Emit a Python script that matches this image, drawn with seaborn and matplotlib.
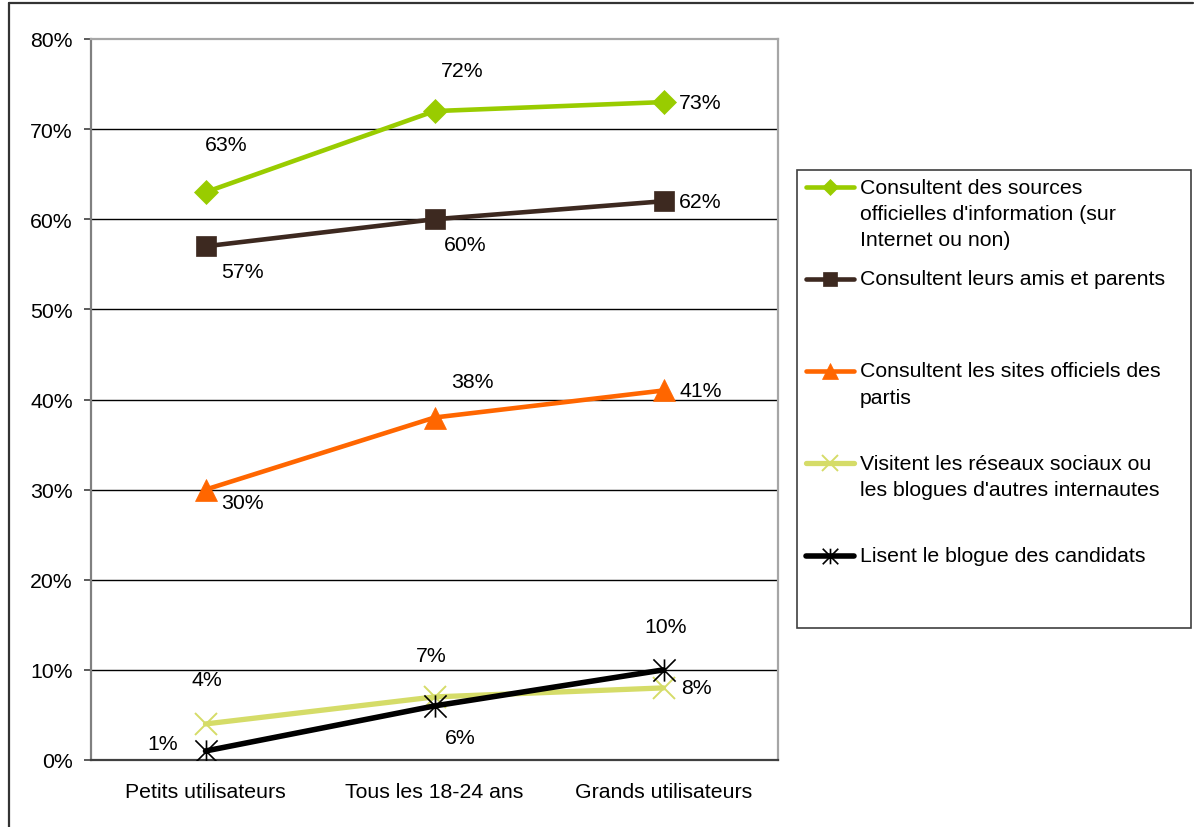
import numpy as np
import pandas as pd
import matplotlib
matplotlib.use("Agg")
import matplotlib.pyplot as plt
from matplotlib.lines import Line2D
from matplotlib.path import Path
from matplotlib.ticker import FixedLocator, FuncFormatter
import seaborn as sns

# ---------------- data ----------------
categories = ["Petits utilisateurs", "Tous les 18-24 ans", "Grands utilisateurs"]
series_names = [
    "Consultent des sources\nofficielles d'information (sur\nInternet ou non)",
    "Consultent leurs amis et parents",
    "Consultent les sites officiels des\npartis",
    "Visitent les réseaux sociaux ou\nles blogues d'autres internautes",
    "Lisent le blogue des candidats",
]
sources_officielles = [63, 72, 73]
amis_parents = [57, 60, 62]
sites_partis = [30, 38, 41]
reseaux_sociaux = [4, 7, 8]
blogue_candidats = [1, 6, 10]
values = [sources_officielles, amis_parents, sites_partis, reseaux_sociaux, blogue_candidats]
y_ticks = [0, 10, 20, 30, 40, 50, 60, 70, 80]

# ---------------- style ----------------
star = Path([(-1, -1), (1, 1), (-1, 1), (1, -1), (0, -1), (0, 1)],
            [Path.MOVETO, Path.LINETO, Path.MOVETO, Path.LINETO, Path.MOVETO, Path.LINETO])
styles = [
    dict(color="#99CC00", marker="D", ms=12, mfc="#99CC00", mec="#99CC00", mew=0.5, lw=3.3),
    dict(color="#3D2920", marker="s", ms=14.5, mfc="#3D2920", mec="#3D2920", mew=0.5, lw=3.3),
    dict(color="#FF6600", marker="^", ms=16, mfc="#FF6600", mec="#FF6600", mew=0.5, lw=3.3),
    dict(color="#D5DC68", marker="x", ms=15.5, mfc="none", mec="#D5DC68", mew=1.4, lw=3.8),
    dict(color="#000000", marker=star, ms=16, mfc="none", mec="#000000", mew=1.2, lw=4.0),
]
# label offsets in pixels (dx, dy) relative to each point
label_offsets = [
    [(21, 48), (28, 41), (37, 0)],
    [(37, -25), (31, -25), (37, 0)],
    [(37, -13), (38, 36), (37, 0)],
    [(1, 44), (-3, 41), (33, 0)],
    [(-43, 7), (26, -32), (2, 43)],
]

W, H = 1194, 828
sns.set_theme(style="white")
plt.rcParams["font.family"] = ["Liberation Sans", "DejaVu Sans"]
FS = 15.3

fig = plt.figure(figsize=(W / 100, H / 100), dpi=100)
fig.patch.set_facecolor("white")

def fx(x):
    return x / W

def fy(y):
    return 1 - y / H

ax = fig.add_axes([fx(91), fy(761), fx(778) - fx(91), fy(40) - fy(761)])
ax.set_facecolor("white")

for name, vals, st in zip(series_names, values, styles):
    df = pd.DataFrame({"cat": categories, "val": vals})
    sns.lineplot(data=df, x="cat", y="val", ax=ax, color=st["color"], lw=st["lw"],
                 marker=st["marker"], markersize=st["ms"], markerfacecolor=st["mfc"],
                 markeredgecolor=st["mec"], markeredgewidth=st["mew"], legend=False,
                 zorder=3)

for vals, offs in zip(values, label_offsets):
    for i, (v, (dx, dy)) in enumerate(zip(vals, offs)):
        ax.annotate(f"{v}%", xy=(i, v), xytext=(dx, dy), textcoords="offset pixels",
                    ha="center", va="center", fontsize=FS, color="black", zorder=4)

ax.set_xlim(-0.5, 2.5)
ax.set_ylim(0, 80)
ax.set_xlabel("")
ax.set_ylabel("")
ax.yaxis.set_major_locator(FixedLocator(y_ticks))
ax.yaxis.set_major_formatter(FuncFormatter(lambda v, p: f"{int(v)}%"))
ax.xaxis.set_minor_locator(FixedLocator([-0.5, 0.5, 1.5, 2.5]))
ax.tick_params(axis="x", which="major", length=0, pad=16, labelsize=FS, colors="black")
ax.tick_params(axis="x", which="minor", length=6, width=1.2, color="#404040", direction="out")
ax.tick_params(axis="y", which="major", length=5, width=1.2, color="#404040",
               direction="out", pad=8, labelsize=FS, labelcolor="black")
ax.tick_params(left=True, bottom=True)
for yv in y_ticks[1:-1]:
    ax.axhline(yv, color="black", lw=1.0, zorder=1)
ax.spines["left"].set_color("#808080")
ax.spines["left"].set_linewidth(1.6)
ax.spines["bottom"].set_color("#404040")
ax.spines["bottom"].set_linewidth(1.6)
ax.spines["top"].set_color("#A6A6A6")
ax.spines["top"].set_linewidth(1.6)
ax.spines["right"].set_color("#A6A6A6")
ax.spines["right"].set_linewidth(1.6)

# ---------------- legend (Excel-style, manual) ----------------
fig.add_artist(plt.Rectangle((fx(797), fy(629)), fx(1191) - fx(797), fy(171) - fy(629),
                             transform=fig.transFigure, fill=False, edgecolor="#404040", lw=1.2))
entry_y = [188, 280, 372, 464, 557]
line_step = 26.5
for name, st, ey in zip(series_names, styles, entry_y):
    fig.add_artist(Line2D([fx(806), fx(854)], [fy(ey), fy(ey)], transform=fig.transFigure,
                          color=st["color"], lw=st["lw"]))
    fig.add_artist(Line2D([fx(830)], [fy(ey)], transform=fig.transFigure, linestyle="none",
                          marker=st["marker"], markersize=st["ms"] * 0.7,
                          markerfacecolor=st["mfc"], markeredgecolor=st["mec"],
                          markeredgewidth=st["mew"]))
    for k, line in enumerate(name.split("\n")):
        fig.text(fx(860), fy(ey + k * line_step), line, ha="left", va="center",
                 fontsize=FS, color="black")

# ---------------- figure border ----------------
fig.add_artist(Line2D([fx(9), fx(1193)], [fy(4), fy(4)], transform=fig.transFigure,
                      color="#333333", lw=1.6))
fig.add_artist(Line2D([fx(9), fx(9)], [fy(4), fy(828)], transform=fig.transFigure,
                      color="#333333", lw=1.6))

fig.savefig("out.png", dpi=100, facecolor="white")
